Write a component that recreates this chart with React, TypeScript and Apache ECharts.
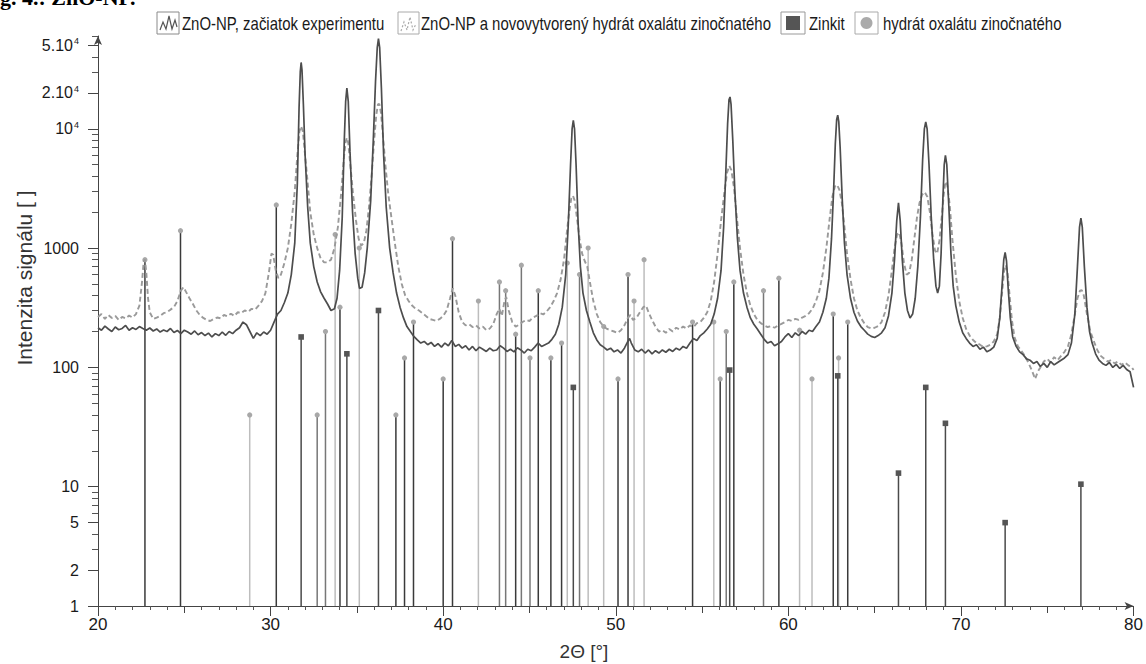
import React, { useEffect, useRef } from 'react';
import * as echarts from 'echarts';

// ---------- DATA ----------
const SERIES_NAMES = [
  'ZnO-NP, začiatok experimentu',
  'ZnO-NP a novovytvorený hydrát oxalátu zinočnatého',
  'Zinkit',
  'hydrát oxalátu zinočnatého',
];

// 2θ [°], intensity  – ZnO-NP at start of experiment
const SOLID: number[][] = [
  [20.0,215],[20.2,205],[20.4,222],[20.6,210],[20.8,200],[21.0,218],[21.2,207],[21.4,212],[21.6,225],[21.8,205],
  [22.0,215],[22.2,208],[22.4,220],[22.6,212],[22.8,205],[23.0,214],[23.2,202],[23.4,210],[23.6,198],[23.8,206],
  [24.0,200],[24.2,212],[24.4,196],[24.6,204],[24.8,192],[25.0,205],[25.2,198],[25.4,190],[25.6,202],[25.8,188],
  [26.0,196],[26.2,185],[26.4,194],[26.6,180],[26.8,192],[27.0,185],[27.2,198],[27.4,186],[27.6,200],[27.8,192],
  [28.0,205],[28.2,215],[28.4,240],[28.6,228],[28.8,200],[29.0,175],[29.2,195],[29.4,185],[29.6,198],[29.8,190],
  [30.0,205],[30.2,240],[30.4,280],[30.6,300],[30.8,350],[31.0,420],[31.2,600],[31.4,1100],[31.55,3500],[31.65,15000],
  [31.72,30000],[31.77,36000],[31.82,31000],[31.9,16000],[32.0,6000],[32.15,2200],[32.3,1100],[32.5,700],[32.7,520],[32.9,430],
  [33.1,380],[33.3,340],[33.5,300],[33.7,310],[33.85,380],[34.0,650],[34.15,1800],[34.27,8000],[34.35,17000],[34.42,22000],
  [34.5,17000],[34.6,6500],[34.75,2000],[34.9,900],[35.05,560],[35.15,460],[35.3,470],[35.45,620],[35.6,1000],[35.8,2500],
  [35.95,8000],[36.08,25000],[36.18,48000],[36.25,57000],[36.32,48000],[36.42,22000],[36.55,6000],[36.7,2200],[36.9,1000],[37.1,620],
  [37.3,420],[37.5,320],[37.7,260],[37.9,220],[38.1,200],[38.3,182],[38.5,170],[38.7,160],[38.9,165],[39.1,155],
  [39.3,162],[39.5,150],[39.7,158],[39.9,148],[40.1,160],[40.3,152],[40.5,168],[40.7,150],[40.9,156],[41.1,145],
  [41.3,152],[41.5,140],[41.7,150],[41.9,138],[42.1,148],[42.3,142],[42.5,136],[42.7,145],[42.9,138],[43.1,140],
  [43.3,152],[43.5,145],[43.7,136],[43.9,142],[44.1,135],[44.3,146],[44.5,140],[44.7,132],[44.9,142],[45.1,138],
  [45.3,148],[45.5,160],[45.7,150],[45.9,155],[46.1,160],[46.3,172],[46.5,190],[46.7,230],[46.9,320],[47.1,600],
  [47.25,1600],[47.38,5000],[47.47,10000],[47.54,11800],[47.61,10000],[47.7,5000],[47.82,1600],[47.95,700],[48.1,420],[48.3,300],
  [48.5,240],[48.7,195],[48.9,170],[49.1,155],[49.3,148],[49.5,140],[49.7,145],[49.9,135],[50.1,140],[50.3,132],
  [50.5,145],[50.7,165],[50.8,175],[50.9,160],[51.1,140],[51.3,135],[51.5,142],[51.7,132],[51.9,140],[52.1,130],
  [52.3,138],[52.5,132],[52.7,140],[52.9,134],[53.1,142],[53.3,136],[53.5,145],[53.7,140],[53.9,150],[54.1,145],
  [54.3,160],[54.5,175],[54.7,168],[54.9,185],[55.1,195],[55.3,210],[55.5,230],[55.7,280],[55.9,380],[56.1,650],
  [56.25,1500],[56.38,4500],[56.48,11000],[56.56,17500],[56.62,18500],[56.68,16000],[56.78,8000],[56.9,3000],[57.05,1200],[57.2,650],
  [57.4,420],[57.6,320],[57.8,260],[58.0,230],[58.2,210],[58.4,190],[58.6,172],[58.8,160],[59.0,165],[59.2,152],
  [59.4,158],[59.6,165],[59.8,180],[60.0,192],[60.2,178],[60.4,195],[60.6,185],[60.8,200],[61.0,190],[61.2,205],
  [61.4,200],[61.6,220],[61.8,240],[62.0,290],[62.2,380],[62.35,560],[62.5,1200],[62.62,3000],[62.72,7500],[62.8,12000],
  [62.86,13000],[62.92,11500],[63.0,7000],[63.12,2600],[63.25,1100],[63.4,600],[63.6,380],[63.8,290],[64.0,245],[64.2,220],
  [64.4,205],[64.6,190],[64.8,182],[65.0,178],[65.2,185],[65.4,195],[65.6,215],[65.8,270],[66.0,420],[66.15,800],
  [66.28,1700],[66.38,2400],[66.48,1700],[66.6,800],[66.75,420],[66.9,300],[67.05,260],[67.2,280],[67.35,380],[67.5,700],
  [67.65,1800],[67.78,5500],[67.88,10000],[67.96,11400],[68.04,10000],[68.15,5000],[68.28,1800],[68.42,800],[68.55,480],[68.65,420],
  [68.75,480],[68.85,900],[68.95,2500],[69.03,5000],[69.1,6000],[69.18,5000],[69.3,2200],[69.42,900],[69.55,480],[69.7,330],
  [69.9,240],[70.1,195],[70.3,175],[70.5,160],[70.7,150],[70.9,155],[71.1,142],[71.3,148],[71.5,135],[71.7,140],
  [71.9,148],[72.1,175],[72.25,260],[72.38,480],[72.48,800],[72.56,920],[72.64,780],[72.74,450],[72.86,260],[73.0,180],
  [73.2,150],[73.4,135],[73.6,128],[73.8,118],[74.0,115],[74.2,108],[74.4,112],[74.6,102],[74.8,108],[75.0,100],
  [75.2,112],[75.4,105],[75.6,110],[75.8,115],[76.0,120],[76.2,128],[76.4,160],[76.6,280],[76.75,700],[76.87,1500],
  [76.95,1780],[77.03,1500],[77.15,700],[77.3,320],[77.45,200],[77.6,160],[77.8,130],[78.0,115],[78.2,108],[78.4,104],
  [78.6,110],[78.8,100],[79.0,106],[79.2,98],[79.4,104],[79.6,96],[79.8,92],[80.0,68],
];

// 2θ [°], intensity  – ZnO-NP with newly formed zinc oxalate hydrate
const DASHED: number[][] = [
  [20.0,265],[20.2,280],[20.4,255],[20.6,275],[20.8,260],[21.0,270],[21.2,250],[21.4,265],[21.6,258],[21.8,272],
  [22.0,262],[22.2,280],[22.4,330],[22.55,520],[22.65,780],[22.72,800],[22.8,620],[22.9,380],[23.0,290],[23.2,255],
  [23.4,262],[23.6,270],[23.8,285],[24.0,290],[24.2,305],[24.4,320],[24.6,360],[24.8,440],[24.95,470],[25.1,430],
  [25.3,380],[25.5,340],[25.7,300],[25.9,275],[26.1,260],[26.3,250],[26.5,245],[26.7,255],[26.9,262],[27.1,258],
  [27.3,275],[27.5,268],[27.7,282],[27.9,270],[28.1,290],[28.3,285],[28.5,300],[28.7,292],[28.9,310],[29.1,305],
  [29.3,330],[29.5,360],[29.7,420],[29.9,620],[30.05,900],[30.15,880],[30.3,650],[30.45,560],[30.6,600],[30.8,750],
  [31.0,1000],[31.2,1600],[31.4,3000],[31.55,6000],[31.67,9500],[31.77,10500],[31.87,9500],[32.0,6000],[32.15,3500],[32.3,2000],
  [32.5,1300],[32.7,1000],[32.9,820],[33.1,760],[33.3,760],[33.5,800],[33.7,1000],[33.9,1500],[34.1,3000],[34.25,5800],
  [34.35,7800],[34.42,8400],[34.5,7600],[34.62,5000],[34.78,2800],[34.95,1700],[35.1,1200],[35.25,1050],[35.4,1100],[35.55,1400],
  [35.7,2200],[35.85,4000],[36.0,8000],[36.12,13000],[36.22,16000],[36.3,16200],[36.4,13500],[36.52,8500],[36.65,5000],[36.8,3000],
  [37.0,1800],[37.2,1100],[37.4,700],[37.6,500],[37.8,400],[38.0,360],[38.2,330],[38.4,310],[38.6,300],[38.8,285],
  [39.0,270],[39.2,255],[39.4,250],[39.6,245],[39.8,255],[40.0,270],[40.2,300],[40.4,380],[40.55,460],[40.7,400],
  [40.9,290],[41.1,240],[41.3,225],[41.5,230],[41.7,218],[41.9,225],[42.1,212],[42.3,220],[42.5,205],[42.7,212],
  [42.9,230],[43.1,280],[43.25,310],[43.4,270],[43.55,360],[43.65,390],[43.8,300],[44.0,240],[44.2,220],[44.4,228],
  [44.6,240],[44.8,250],[45.0,245],[45.2,262],[45.4,270],[45.6,285],[45.8,278],[46.0,295],[46.2,320],[46.4,360],
  [46.6,420],[46.8,540],[47.0,800],[47.15,1300],[47.3,2000],[47.42,2600],[47.52,2750],[47.62,2500],[47.75,1800],[47.9,1200],
  [48.05,900],[48.2,780],[48.35,700],[48.5,520],[48.7,360],[48.9,280],[49.1,240],[49.3,220],[49.5,210],[49.7,205],
  [49.9,200],[50.1,195],[50.3,205],[50.5,225],[50.7,260],[50.85,275],[51.0,250],[51.2,260],[51.4,290],[51.6,320],
  [51.75,330],[51.9,290],[52.1,250],[52.3,220],[52.5,200],[52.7,205],[52.9,195],[53.1,210],[53.3,200],[53.5,215],
  [53.7,208],[53.9,220],[54.1,212],[54.3,225],[54.5,218],[54.7,235],[54.9,240],[55.1,260],[55.3,290],[55.5,360],
  [55.7,520],[55.9,900],[56.1,1700],[56.3,3000],[56.45,4300],[56.58,4900],[56.7,4500],[56.85,3200],[57.0,1900],[57.2,1000],
  [57.4,600],[57.6,420],[57.8,330],[58.0,280],[58.2,250],[58.4,235],[58.6,225],[58.8,218],[59.0,222],[59.2,215],
  [59.4,225],[59.6,232],[59.8,240],[60.0,250],[60.2,245],[60.4,255],[60.6,250],[60.8,262],[61.0,270],[61.2,285],
  [61.4,310],[61.6,360],[61.8,440],[62.0,620],[62.2,1000],[62.4,1800],[62.55,2700],[62.7,3300],[62.82,3400],[62.95,3100],
  [63.1,2400],[63.25,1500],[63.4,900],[63.6,550],[63.8,380],[64.0,300],[64.2,260],[64.4,235],[64.6,218],[64.8,212],
  [65.0,215],[65.2,222],[65.4,240],[65.6,290],[65.8,400],[66.0,650],[66.15,1000],[66.3,1300],[66.42,1350],[66.55,1100],
  [66.7,750],[66.85,600],[67.0,620],[67.15,800],[67.3,1200],[67.45,1800],[67.6,2400],[67.75,2800],[67.9,2950],[68.05,2700],
  [68.2,2000],[68.35,1300],[68.5,950],[68.62,900],[68.75,1150],[68.9,1900],[69.0,2800],[69.1,3600],[69.2,3400],[69.35,2300],
  [69.5,1200],[69.7,600],[69.9,360],[70.1,260],[70.3,210],[70.5,185],[70.7,170],[70.9,160],[71.1,155],[71.3,148],
  [71.5,150],[71.7,155],[71.9,165],[72.1,190],[72.25,260],[72.38,420],[72.5,640],[72.6,720],[72.7,620],[72.82,400],
  [72.95,250],[73.1,180],[73.3,150],[73.5,138],[73.7,125],[73.9,110],[74.1,95],[74.3,80],[74.45,92],[74.6,100],
  [74.8,112],[75.0,118],[75.2,110],[75.4,122],[75.6,115],[75.8,125],[76.0,135],[76.2,150],[76.4,190],[76.6,280],
  [76.75,380],[76.9,440],[77.0,445],[77.12,400],[77.3,280],[77.5,200],[77.7,165],[77.9,140],[78.1,125],[78.3,118],
  [78.5,112],[78.7,115],[78.9,108],[79.1,112],[79.3,105],[79.5,110],[79.7,104],[79.9,100],[80.0,95],
];

// reference pattern: Zinkit (ZnO)
const ZINKIT_POS = [31.77, 34.42, 36.25, 47.54, 56.6, 62.86, 66.38, 67.96, 69.1, 72.56, 76.95];
const ZINKIT_INT = [180, 130, 300, 68, 95, 85, 13, 68, 34, 5, 10.5];

// reference pattern: zinc oxalate hydrate
const HYDRAT_POS = [
  22.72, 24.78, 28.79, 30.33, 32.7, 33.18, 33.74, 34.02, 35.14, 37.26,
  37.76, 38.28, 40.0, 40.54, 42.04, 43.26, 43.62, 44.2, 44.53, 45.03,
  45.51, 46.24, 46.86, 47.19, 47.9, 48.4, 49.3, 50.13, 50.71, 51.06,
  51.64, 54.45, 55.68, 56.05, 56.4, 56.84, 58.56, 59.45, 60.65, 61.37,
  62.6, 62.91, 63.44,
];
const HYDRAT_INT = [
  800, 1400, 40, 2300, 40, 200, 1300, 320, 1000, 40,
  120, 240, 80, 1200, 360, 520, 440, 190, 720, 120,
  440, 120, 160, 750, 600, 1000, 220, 80, 600, 360,
  800, 240, 240, 80, 200, 520, 440, 560, 205, 80,
  280, 120, 240,
];

const X_TICK_LABELS = [20, 30, 40, 50, 60, 70, 80];
const Y_LABEL_VALUES = [1, 2, 5, 10, 100, 1000, 10000, 20000, 50000];
const Y_LABEL_TEXTS = ['1', '2', '5', '10', '100', '1000', '{m|10}{s|4}', '{m|2.10}{s|4}', '{m|5.10}{s|4}'];
const HEADER_TEXT = 'g. 4.: ZnO-NP.';
const X_NAME = '2Θ [°]';
const Y_NAME = 'Intenzita signálu [ ]';

// ---------- STYLE ----------
const HYDRAT_LINE_TONE = [
  0, 0, 2, 0, 1, 1, 2, 0, 2, 0,
  0, 0, 0, 0, 2, 1, 1, 0, 1, 1,
  0, 0, 0, 2, 1, 2, 2, 0, 0, 2,
  2, 0, 2, 0, 1, 0, 1, 0, 2, 2,
  0, 2, 0,
];
const TONES = ['#3a3a3a', '#777777', '#bdbdbd'];
const SANS = '"Liberation Sans", Arial, sans-serif';
const TEXT_COLOR = '#1a1a1a';
const Y_MAX = 60000;
const NARROW_SCALE = 0.83;

export default function App() {
  const ref = useRef<HTMLDivElement>(null);

  useEffect(() => {
    document.body.style.margin = '0';
    if (!ref.current) return;
    const chart = echarts.init(ref.current, undefined, { renderer: 'svg' });
    const logMax = Math.log10(Y_MAX);
    const majorVals = Y_LABEL_VALUES.map((v) => Math.log10(v));
    const minorVals: number[] = [];
    for (let n = 0; n <= 4; n++) {
      for (let k = 2; k <= 9; k++) {
        const v = k * Math.pow(10, n);
        if (v <= Y_MAX && Y_LABEL_VALUES.indexOf(v) < 0) minorVals.push(Math.log10(v));
      }
    }

    const stick = (tones: ((i: number) => string), marker: 'circle' | 'rect', markerColor: string) =>
      (params: any, api: any) => {
        const x = api.value(0);
        const v = api.value(1);
        const base = api.coord([x, 1]);
        const top = api.coord([x, v]);
        const color = tones(params.dataIndex);
        const mk = marker === 'circle'
          ? { type: 'circle', shape: { cx: top[0], cy: top[1], r: 2.6 }, style: { fill: markerColor } }
          : { type: 'rect', shape: { x: top[0] - 2.8, y: top[1] - 2.8, width: 5.6, height: 5.6 }, style: { fill: markerColor } };
        return {
          type: 'group',
          children: [
            { type: 'line', shape: { x1: base[0], y1: base[1], x2: top[0], y2: top[1] + 1 }, style: { stroke: color, lineWidth: 1.5 } },
            mk,
          ],
        };
      };

    const narrowText = (x: number, y: number, text: string) => ({
      type: 'text', x, y, scaleX: NARROW_SCALE,
      style: { text, fontFamily: SANS, fontSize: 18, fill: TEXT_COLOR, verticalAlign: 'middle', align: 'left' },
    });

    const gfx: any[] = [];
    const ly = 12, lh = 22, ty = 24;
    // legend item 1
    gfx.push({ type: 'rect', shape: { x: 157, y: ly, width: 22, height: lh }, style: { fill: '#fff', stroke: '#8a8a8a', lineWidth: 1 } });
    gfx.push({ type: 'polyline', shape: { points: [[160, 30], [163, 22], [166, 29], [169, 16], [172, 29], [175, 20], [177, 27]] }, style: { stroke: '#555', lineWidth: 1.2, fill: 'none' } });
    gfx.push(narrowText(182, ty, SERIES_NAMES[0]));
    // legend item 2
    gfx.push({ type: 'rect', shape: { x: 398, y: ly, width: 21, height: lh }, style: { fill: '#fff', stroke: '#aaa', lineWidth: 1 } });
    gfx.push({ type: 'polyline', shape: { points: [[401, 31], [404, 22], [407, 30], [410, 17], [413, 30], [416, 24]] }, style: { stroke: '#aaa', lineWidth: 1.2, lineDash: [2, 2], fill: 'none' } });
    gfx.push(narrowText(421, ty, SERIES_NAMES[1]));
    // legend item 3
    gfx.push({ type: 'rect', shape: { x: 781, y: ly, width: 24, height: lh }, style: { fill: '#fff', stroke: '#999', lineWidth: 1 } });
    gfx.push({ type: 'rect', shape: { x: 786, y: ly + 4, width: 14, height: 14 }, style: { fill: '#555' } });
    gfx.push(narrowText(809, ty, SERIES_NAMES[2]));
    // legend item 4
    gfx.push({ type: 'rect', shape: { x: 855, y: ly, width: 23, height: lh }, style: { fill: '#fff', stroke: '#aaa', lineWidth: 1 } });
    gfx.push({ type: 'circle', shape: { cx: 866.5, cy: ly + lh / 2, r: 6 }, style: { fill: '#aaa' } });
    gfx.push(narrowText(883, ty, SERIES_NAMES[3]));
    // header (cropped at the top edge)
    gfx.push({ type: 'text', x: 0, y: -14, style: { text: HEADER_TEXT, fontFamily: '"Liberation Serif", serif', fontWeight: 'bold', fontSize: 22, fill: '#000', verticalAlign: 'top' } });
    // axis names
    gfx.push({ type: 'text', x: 24, y: 278, rotation: Math.PI / 2, style: { text: Y_NAME, fontFamily: SANS, fontSize: 21, fill: '#333', align: 'center', verticalAlign: 'middle' } });
    gfx.push({ type: 'text', x: 584, y: 651, style: { text: X_NAME, fontFamily: SANS, fontSize: 19, fill: '#333', align: 'center', verticalAlign: 'middle' } });

    chart.setOption({
      animation: false,
      backgroundColor: '#fff',
      grid: { left: 98, right: 10, top: 36, bottom: 58 },
      xAxis: [
        {
          type: 'value', min: 20, max: 80, interval: 10,
          axisLine: { show: true, lineStyle: { color: '#444', width: 1 }, symbol: ['none', 'arrow'], symbolSize: [6, 9] },
          axisTick: { show: true, length: 10, lineStyle: { color: '#444' } },
          minorTick: { show: true, splitNumber: 10, length: 4, lineStyle: { color: '#555' } },
          axisLabel: {
            margin: 10, fontFamily: SANS, fontSize: 17, color: TEXT_COLOR,
            formatter: (v: number) => (X_TICK_LABELS.indexOf(v) >= 0 ? String(v) : ''),
          },
          splitLine: { show: false },
        },
        {
          type: 'value', min: 20, max: 80, interval: 5, position: 'bottom',
          axisLine: { show: false }, axisTick: { show: true, length: 7, lineStyle: { color: '#444' } },
          axisLabel: { show: false }, splitLine: { show: false },
        },
      ],
      yAxis: [
        { type: 'log', logBase: 10, min: 1, max: Y_MAX, show: false, splitLine: { show: false } },
        {
          type: 'value', min: 0, max: logMax, position: 'left',
          axisLine: { show: true, lineStyle: { color: '#444', width: 1 }, symbol: ['none', 'arrow'], symbolSize: [6, 9] },
          axisTick: { show: true, length: 10, customValues: majorVals, lineStyle: { color: '#444' } },
          axisLabel: {
            margin: 19, fontFamily: SANS, fontSize: 16, color: TEXT_COLOR,
            customValues: majorVals,
            formatter: (val: number) => {
              for (let i = 0; i < majorVals.length; i++) if (Math.abs(majorVals[i] - val) < 1e-6) return Y_LABEL_TEXTS[i];
              return '';
            },
            rich: {
              m: { fontFamily: SANS, fontSize: 16, color: TEXT_COLOR },
              s: { fontFamily: SANS, fontSize: 9, color: TEXT_COLOR, padding: [0, 0, 8, 1] },
            },
          },
          splitLine: { show: false },
        },
        {
          type: 'value', min: 0, max: logMax, position: 'left',
          axisLine: { show: false },
          axisTick: { show: true, length: 6, customValues: minorVals, lineStyle: { color: '#555' } },
          axisLabel: { show: false }, splitLine: { show: false },
        },
      ],
      graphic: gfx,
      series: [
        {
          type: 'custom', name: SERIES_NAMES[3], xAxisIndex: 0, yAxisIndex: 0,
          data: HYDRAT_POS.map((x, i) => [x, HYDRAT_INT[i]]),
          renderItem: stick((i) => TONES[HYDRAT_LINE_TONE[i]], 'circle', '#a8a8a8'),
          z: 1,
        },
        {
          type: 'custom', name: SERIES_NAMES[2], xAxisIndex: 0, yAxisIndex: 0,
          data: ZINKIT_POS.map((x, i) => [x, ZINKIT_INT[i]]),
          renderItem: stick(() => '#4a4a4a', 'rect', '#555'),
          z: 2,
        },
        {
          type: 'line', name: SERIES_NAMES[1], xAxisIndex: 0, yAxisIndex: 0,
          data: DASHED, showSymbol: false, symbol: 'none',
          lineStyle: { color: '#9a9a9a', width: 1.9, type: [5, 3] },
          z: 3,
        },
        {
          type: 'line', name: SERIES_NAMES[0], xAxisIndex: 0, yAxisIndex: 0,
          data: SOLID, showSymbol: false, symbol: 'none',
          lineStyle: { color: '#4d4d4d', width: 1.7 },
          z: 4,
        },
      ],
    });
    return () => chart.dispose();
  }, []);

  return <div ref={ref} style={{ width: 1146, height: 664 }} />;
}
